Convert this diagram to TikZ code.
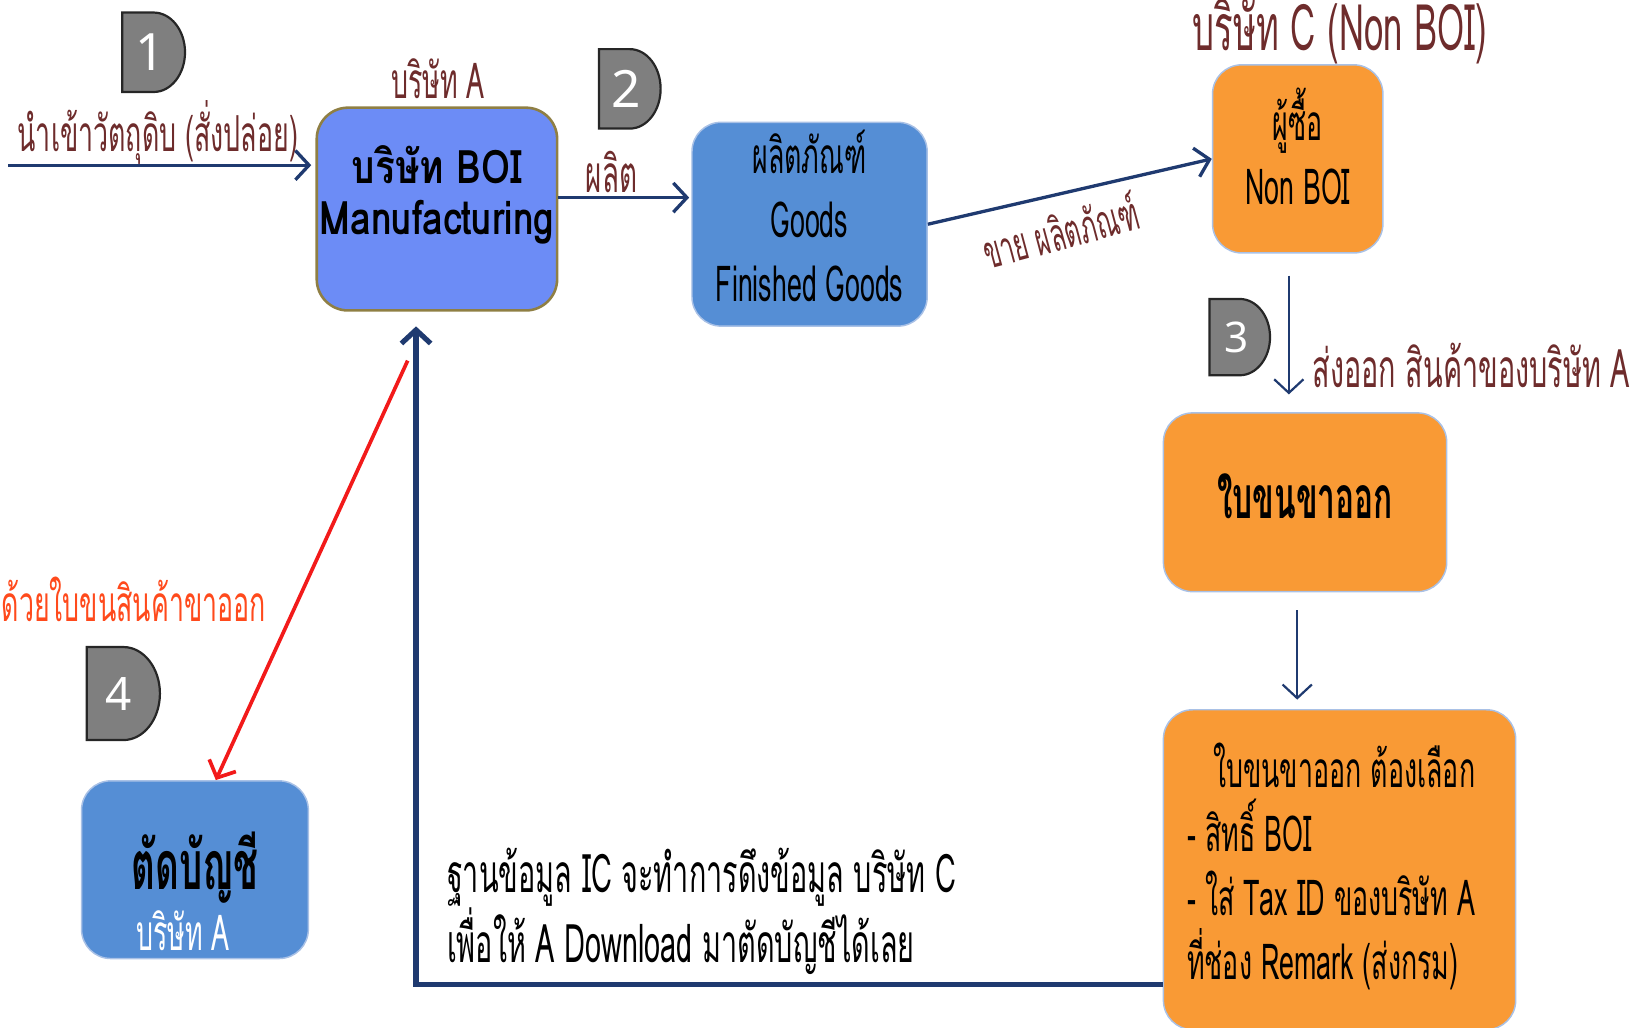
\documentclass[tikz,border=0pt]{standalone}
\usepackage{fontspec}
\setmainfont[Script=Thai,FakeStretch=0.54]{Loma}
\newfontfamily\widefont[Script=Thai,FakeStretch=0.8]{Loma}
\newfontfamily\numfont{Noto Sans}
\usepackage{tikz}
\usetikzlibrary{arrows.meta, calc, positioning}
\tikzset{>={Straight Barb[length=1.3mm,width=2.8mm]}}
\usepackage{xcolor}
\definecolor{navyline}{HTML}{1F3A70}
\definecolor{brownlabel}{HTML}{6E2C2C}
\definecolor{boiblue}{HTML}{6C8CF6}
\definecolor{boiborder}{HTML}{8F7F44}
\definecolor{goodsblue}{HTML}{558ED5}
\definecolor{buyorange}{HTML}{F99A35}
\definecolor{boxedge}{HTML}{A9C1E6}
\definecolor{badgegray}{HTML}{7F7F7F}
\definecolor{redline}{HTML}{F21A1A}
\definecolor{redlabel}{HTML}{FF4A1C}

\begin{document}
\begin{tikzpicture}[
    flow/.style={->, navyline, line width=0.9pt},
    thinflow/.style={->, navyline, line width=0.6pt},
    roundbox/.style={rounded corners=0.28cm, draw=boxedge, line width=0.4pt, align=center, inner sep=0pt},
    bluebox/.style={roundbox, fill=goodsblue},
    orangebox/.style={roundbox, fill=buyorange},
    tag/.style={text=brownlabel, font=\fontsize{13.5}{16}\selectfont},
    badge/.style={draw=black!85, fill=badgegray, line width=0.6pt}]
    \useasboundingbox (0,0) rectangle (15.68,9.83);
    % numbered badges
    \foreach \x/\y/\w/\h/\s/\n in {1.17/8.95/0.60/0.76/14/1, 5.73/8.60/0.59/0.76/14/2, 11.57/6.24/0.58/0.73/11.5/3, 0.83/2.75/0.70/0.89/12.5/4}{
        \draw[badge] (\x,\y) -- ++(\w/2,0) arc[start angle=-90, end angle=90, x radius=\w/2, y radius=\h/2] -- ++(-\w/2,0) -- cycle;
        \node[text=white, font=\numfont\fontsize{\s}{\s}\selectfont] (badge\n) at (\x+0.44*\w,\y+\h/2) {\n};
    }
    % boxes
    \node[roundbox, rounded corners=0.3cm, fill=boiblue, draw=boiborder, line width=0.7pt, minimum width=2.30cm, minimum height=1.94cm] (boi) at (4.18,7.83) {};
    \node[font=\widefont\bfseries\fontsize{12.6}{14}\selectfont, align=center] (boitext) at ([yshift=0.135cm]boi.center) {บริษัท BOI\\Manufacturing};
    \node[bluebox, minimum width=2.25cm, minimum height=1.95cm] (goods) at (7.745,7.685) {};
    \node[font=\fontsize{13.5}{17.4}\selectfont, align=center] (goodstext) at ([yshift=0.08cm]goods.center) {ผลิตภัณฑ์\\Goods\\Finished Goods};
    \node[orangebox, minimum width=1.63cm, minimum height=1.80cm] (buyer) at (12.415,8.31) {};
    \node[font=\fontsize{13.5}{17.6}\selectfont, align=center] (buyertext) at ([yshift=0.12cm]buyer.center) {ผู้ซื้อ\\Non BOI};
    \node[orangebox, minimum width=2.71cm, minimum height=1.71cm] (exportdoc) at (12.485,5.025) {};
    \node[font=\bfseries\fontsize{16}{20}\selectfont] (exporttext) at ([yshift=0.06cm]exportdoc.center) {ใบขนขาออก};
    \node[orangebox, minimum width=3.37cm, minimum height=3.06cm] (remark) at (12.815,1.51) {};
    \node[anchor=west, align=left, inner sep=0pt, font=\fontsize{13.5}{17.4}\selectfont] (remarktext) at (11.35,1.54) {\hspace{0.25cm}ใบขนขาออก ต้องเลือก\\- สิทธิ์ BOI\\- ใส่ Tax ID ของบริษัท A\\ที่ช่อง Remark (ส่งกรม)};
    \node[bluebox, minimum width=2.17cm, minimum height=1.70cm] (cutacc) at (1.865,1.51) {};
    \node[font=\bfseries\fontsize{18.5}{20}\selectfont] (cuttext) at (1.865,1.53) {ตัดบัญชี};
    \node[text=white, font=\fontsize{13.5}{15}\selectfont] (cutco) at (1.75,0.93) {บริษัท A};
    % labels
    \node[tag] (inlabel) at (1.51,8.56) {นำเข้าวัตถุดิบ (สั่งปล่อย)};
    \node[tag] (colabelA) at (4.19,9.08) {บริษัท A};
    \node[tag, font=\fontsize{14}{16}\selectfont] (makelabel) at (5.85,8.18) {ผลิต};
    \node[tag, rotate=15, font=\fontsize{12.5}{15}\selectfont] (selllabel) at (10.14,7.63) {ขาย ผลิตภัณฑ์};
    \node[tag, font=\fontsize{17.5}{20}\selectfont] (colabelC) at (12.82,9.53) {บริษัท C (Non BOI)};
    \node[tag, anchor=west, inner sep=0pt, font=\fontsize{14.5}{18}\selectfont] (exportlabel) at (12.55,6.33) {ส่งออก สินค้าของบริษัท A};
    \node[anchor=west, align=left, inner sep=0pt, font=\fontsize{14.5}{19}\selectfont] (icnote) at (4.27,1.115) {ฐานข้อมูล IC จะทำการดึงข้อมูล บริษัท C\\เพื่อให้ A Download มาตัดบัญชีได้เลย};
    \node[text=redlabel, anchor=east, inner sep=0pt, font=\fontsize{13.5}{16}\selectfont] (redtag) at (2.55,4.10) {ด้วยใบขนสินค้าขาออก};
    % connectors
    \coordinate (instart) at (0.08,8.25);
    \coordinate (redstart) at (3.90,6.38);
    \draw[flow, shorten >=0.04cm] (instart) -- (instart -| boi.west);
    \draw[flow, shorten >=0.02cm] ([yshift=0.11cm]boi.east) -- ([yshift=0.11cm]boi.east -| goods.west);
    \draw[flow] (goods.east) -- (buyer.west);
    \draw[thinflow, shorten <=0.21cm, shorten >=0.17cm] ([xshift=-0.085cm]buyer.south) -- ([xshift=-0.085cm]buyer.south |- exportdoc.north);
    \draw[thinflow, shorten <=0.17cm, shorten >=0.09cm] ([xshift=-0.075cm]exportdoc.south) -- ([xshift=-0.075cm]exportdoc.south |- remark.north);
    \draw[->, navyline, line width=1.4pt, shorten >=0.14cm] ([yshift=-1.1cm]remark.west) -| ([xshift=-0.2cm]boi.south);
    \draw[->, redline, line width=1pt] (redstart) -- ([xshift=0.2cm]cutacc.north);
\end{tikzpicture}
\end{document}
